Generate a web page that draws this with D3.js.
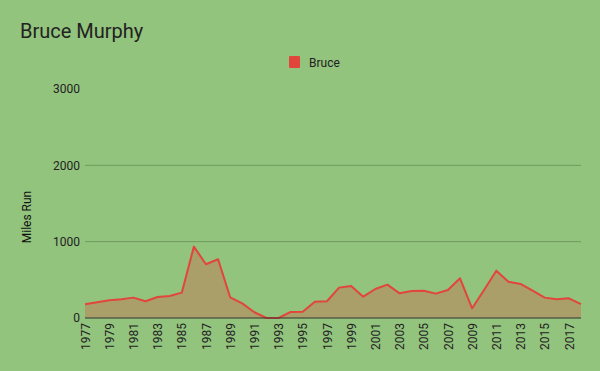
<!DOCTYPE html>
<html><head><meta charset="utf-8">
<script src="https://cdn.jsdelivr.net/npm/d3@7"></script>
<style>body{margin:0;background:#93c47d;} svg{display:block;font-family:Roboto,"Noto Sans",sans-serif;}</style>
</head><body>
<script>
const years = d3.range(1977, 2019).map(String);
const bruce = [179,205,232,245,267,219,275,288,332,935,704,769,271,192,75,0,0,79,82,214,219,398,419,280,380,437,323,354,358,319,367,520,127,370,620,476,446,358,267,245,258,183];
const yTicks = [0,1000,2000,3000];
const xTickLabels = years.filter((y,i)=>i%2===0);
const seriesName = "Bruce";
const title = "Bruce Murphy";
const yTitle = "Miles Run";

const W=600,H=371;
const svg=d3.select("body").append("svg").attr("width",W).attr("height",H);
svg.append("rect").attr("width",W).attr("height",H).attr("fill","#93c47d");
const L=85,R=581,T=89,B=318;
const x=d3.scalePoint().domain(years).range([L,R]);
const y=d3.scaleLinear().domain([0,3000]).range([B,T]);

// gridlines
svg.append("g").selectAll("line").data(yTicks.filter(d=>d>0&&d<3000)).join("line")
  .attr("x1",L).attr("x2",R).attr("y1",d=>y(d)).attr("y2",d=>y(d))
  .attr("stroke","#6f9a5e").attr("stroke-width",1);

// y axis labels
const ya=d3.axisLeft(y).tickValues(yTicks).tickSize(0).tickPadding(5).tickFormat(d3.format("d"));
const yg=svg.append("g").attr("transform",`translate(${L},0)`).call(ya);
yg.select(".domain").remove();
yg.selectAll("text").attr("font-size",12).attr("fill","#222").attr("font-family","Roboto");

// area + line
const area=d3.area().x((d,i)=>x(years[i])).y0(y(0)).y1(d=>y(d));
svg.append("path").datum(bruce).attr("d",area).attr("fill","#e2453c").attr("fill-opacity",0.3);
const line=d3.line().x((d,i)=>x(years[i])).y(d=>y(d));
svg.append("path").datum(bruce).attr("d",line).attr("fill","none").attr("stroke","#e2453c").attr("stroke-width",2).attr("stroke-linejoin","round");

// baseline
svg.append("line").attr("x1",L).attr("x2",R).attr("y1",y(0)).attr("y2",y(0)).attr("stroke","#333").attr("stroke-width",1);

// x axis labels
const xa=d3.axisBottom(x).tickValues(xTickLabels).tickSize(0).tickPadding(0);
const xg=svg.append("g").attr("transform",`translate(0,${B})`).call(xa);
xg.select(".domain").remove();
xg.selectAll("text").attr("font-size",12).attr("fill","#222").attr("font-family","Roboto")
  .attr("text-anchor","end").attr("dy","0.35em")
  .attr("transform","translate(0,5) rotate(-90)").attr("x",0).attr("y",0);

// title
svg.append("text").attr("x",20).attr("y",38).text(title).attr("font-size",20).attr("fill","#222").attr("font-family","Roboto");
// y title
svg.append("text").attr("transform","translate(31,217) rotate(-90)").attr("text-anchor","middle")
  .text(yTitle).attr("font-size",12).attr("fill","#111").attr("font-family","Roboto");
// legend
svg.append("rect").attr("x",289).attr("y",56).attr("width",11).attr("height",12).attr("rx",1).attr("fill","#e2453c");
svg.append("text").attr("x",309).attr("y",66.5).text(seriesName).attr("font-size",12).attr("fill","#222").attr("font-family","Roboto");
</script>
</body></html>
